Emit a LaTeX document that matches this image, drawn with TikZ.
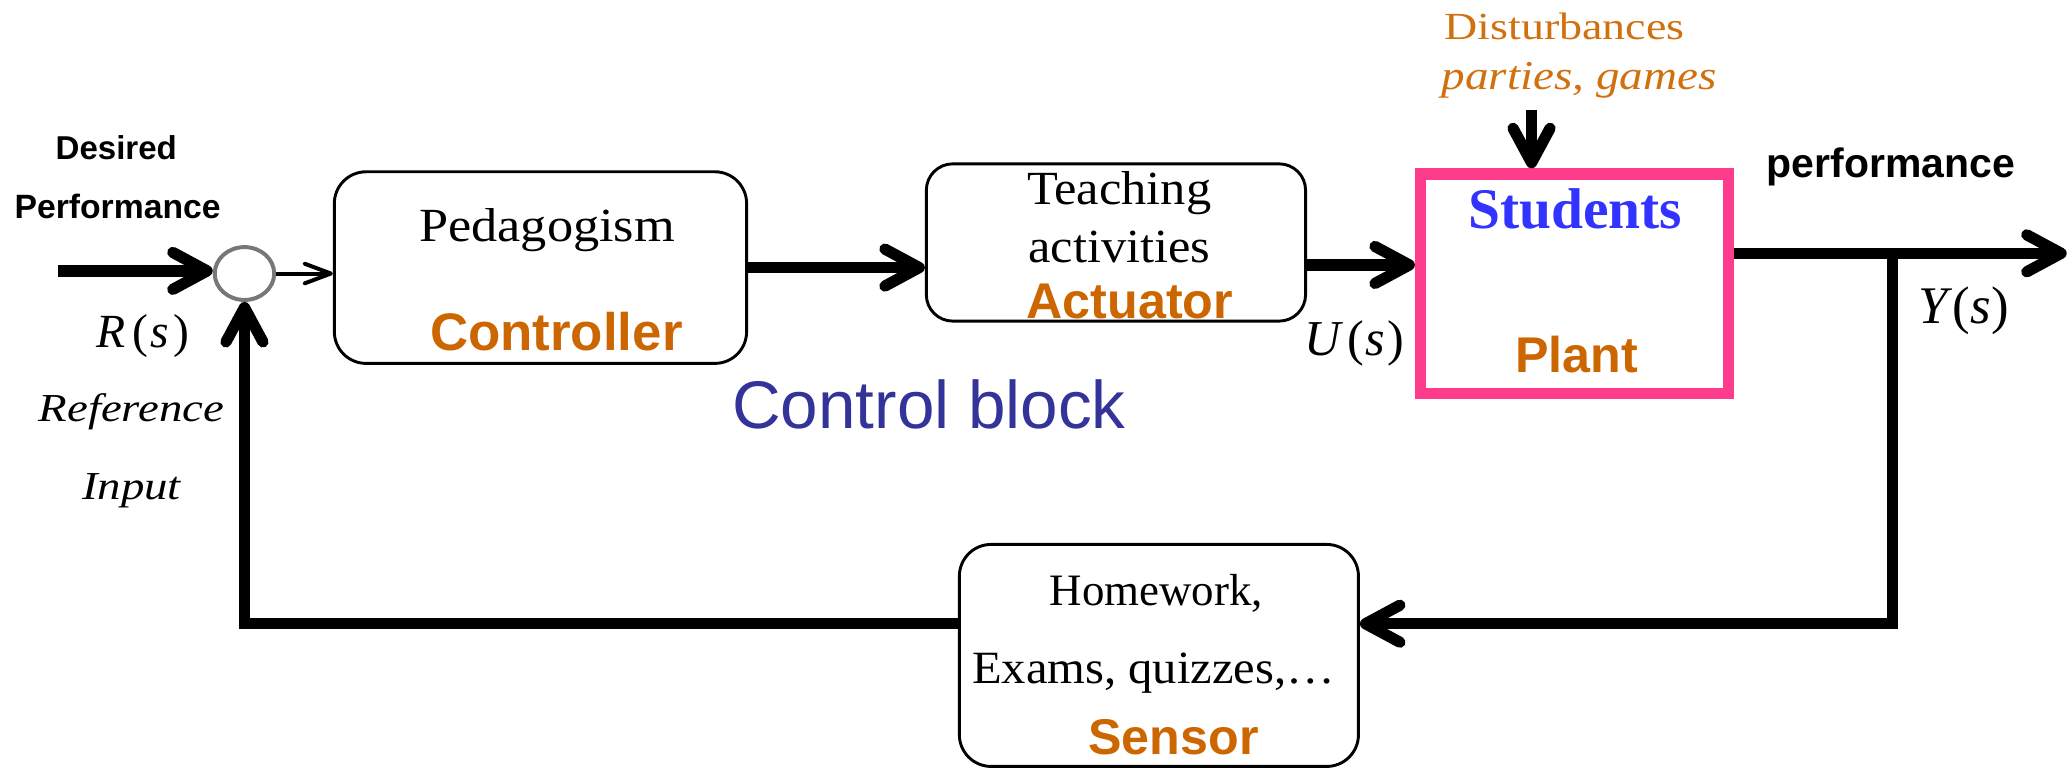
\documentclass[tikz,border=0pt]{standalone}
\usepackage{fontspec}
\setmainfont{Liberation Serif}
\setsansfont{Liberation Sans}
\usepackage{graphicx}
\usetikzlibrary{arrows.meta,shapes.geometric}
\definecolor{orng}{HTML}{CC6600}
\definecolor{dorng}{HTML}{D0700F}
\definecolor{cblue}{HTML}{333399}
\definecolor{sblue}{HTML}{3333FF}
\definecolor{pinkc}{HTML}{FF3C8C}
\definecolor{sumgray}{HTML}{777777}
\newcommand{\fsz}[1]{\fontsize{#1}{#1}\selectfont}
\newcommand{\xstretch}[2]{\scalebox{#1}[1]{#2}}
\tikzset{
  txt/.style={anchor=base, inner sep=0pt},
  blockbox/.style={draw, line width=2.2pt, rounded corners=24pt},
  flow/.style={line width=8.5pt, -{Straight Barb[length=26pt, width=28pt, round]}},
  thinflow/.style={line width=3pt, -{Straight Barb[length=20pt, width=15pt, round]}},
}
\begin{document}
\begin{tikzpicture}[x=1pt,y=-1pt]
\useasboundingbox (0,0) rectangle (1568,583);
% blocks
\node[blockbox, minimum width=312pt, minimum height=145pt] (ctrl) at (409,202.5) {};
\node[blockbox, rounded corners=20pt, minimum width=287pt, minimum height=119pt] (act) at (844.5,183.5) {};
\node[draw=pinkc, line width=8.5pt, minimum width=233pt, minimum height=166pt] (plant) at (1191.5,214.6) {};
\node[blockbox, minimum width=302pt, minimum height=168pt] (sens) at (877,496) {};
\node[draw=sumgray, line width=3pt, ellipse, inner sep=0pt, minimum width=45pt, minimum height=40pt] (sum) at (185,207) {};
% connectors
\coordinate (inS) at (44,205);
\draw[flow] (inS) -- (inS -| sum.west);
\draw[thinflow] (sum.east) -- (sum.east -| ctrl.west);
\draw[flow] (ctrl.east) -- (ctrl.east -| act.west);
\draw[flow] ([yshift=-17pt]act.east) coordinate (u) -- (u -| plant.west);
\coordinate (dtop) at (1159,83);
\draw[flow] (dtop) -- (dtop |- plant.north);
\coordinate (yend) at (1564,191.7);
\draw[flow] (yend -| plant.east) -- (yend);
\coordinate (br) at (1432,191.7);
\coordinate (fb) at (1432,472);
\draw[flow] (br) |- (sens.east |- fb);
\draw[flow] (sens.west |- fb) -| (sum.south);
% texts
\node[txt, font=\sffamily\bfseries\fsz{25}] (des) at (88,121) {Desired};
\node[txt, font=\sffamily\bfseries\fsz{25.5}] (perf) at (89,165) {Performance};
\node[txt, font=\fsz{36}] (rs) at (108,263) {\textit{R}\hspace{5pt}(\hspace{2pt}\textit{s}\hspace{3pt})};
\node[txt, font=\itshape\fsz{30}] (ref) at (99.5,319) {\xstretch{1.18}{Reference}};
\node[txt, font=\itshape\fsz{30}] (inp) at (99.5,378) {\xstretch{1.18}{Input}};
\node[txt, font=\fsz{36}] (ped) at (414,183) {\xstretch{1.1}{Pedagogism}};
\node[txt, font=\sffamily\bfseries\fsz{40}, text=orng] (ctl) at (421,265) {Controller};
\node[txt, font=\sffamily\fsz{51}, text=cblue] (cb) at (703,324) {Control block};
\node[txt, font=\fsz{36}] (t1) at (847,155) {\xstretch{1.06}{Teaching}};
\node[txt, font=\fsz{36}] (t2) at (847,199) {\xstretch{1.06}{activities}};
\node[txt, font=\sffamily\bfseries\fsz{38}, text=orng] (actl) at (855,241) {Actuator};
\node[txt, font=\fsz{38}] (us) at (1025,269) {\textit{U}\hspace{3pt}(\hspace{1pt}\textit{s}\hspace{2pt})};
\node[txt, font=\bfseries\fsz{43.5}, text=sblue] (stu) at (1192,173) {Students};
\node[txt, font=\sffamily\bfseries\fsz{38}, text=orng] (plt) at (1193,282) {Plant};
\node[txt, font=\fsz{29}, text=dorng] (dist) at (1184,30) {\xstretch{1.2}{Disturbances}};
\node[txt, font=\itshape\fsz{31}, text=dorng] (par) at (1195,68) {\xstretch{1.15}{parties, games}};
\node[txt, font=\sffamily\bfseries\fsz{31}] (perf2) at (1431,134) {performance};
\node[txt, font=\fsz{40}] (ys) at (1486,245) {\textit{Y}(\textit{s})};
\node[txt, font=\fsz{34}] (hw) at (875,458) {Homework,};
\node[txt, font=\fsz{35}] (ex) at (873,517) {\xstretch{1.05}{Exams, quizzes,\ldots}};
\node[txt, font=\sffamily\bfseries\fsz{38}, text=orng] (sen) at (888,571) {Sensor};
\end{tikzpicture}
\end{document}
